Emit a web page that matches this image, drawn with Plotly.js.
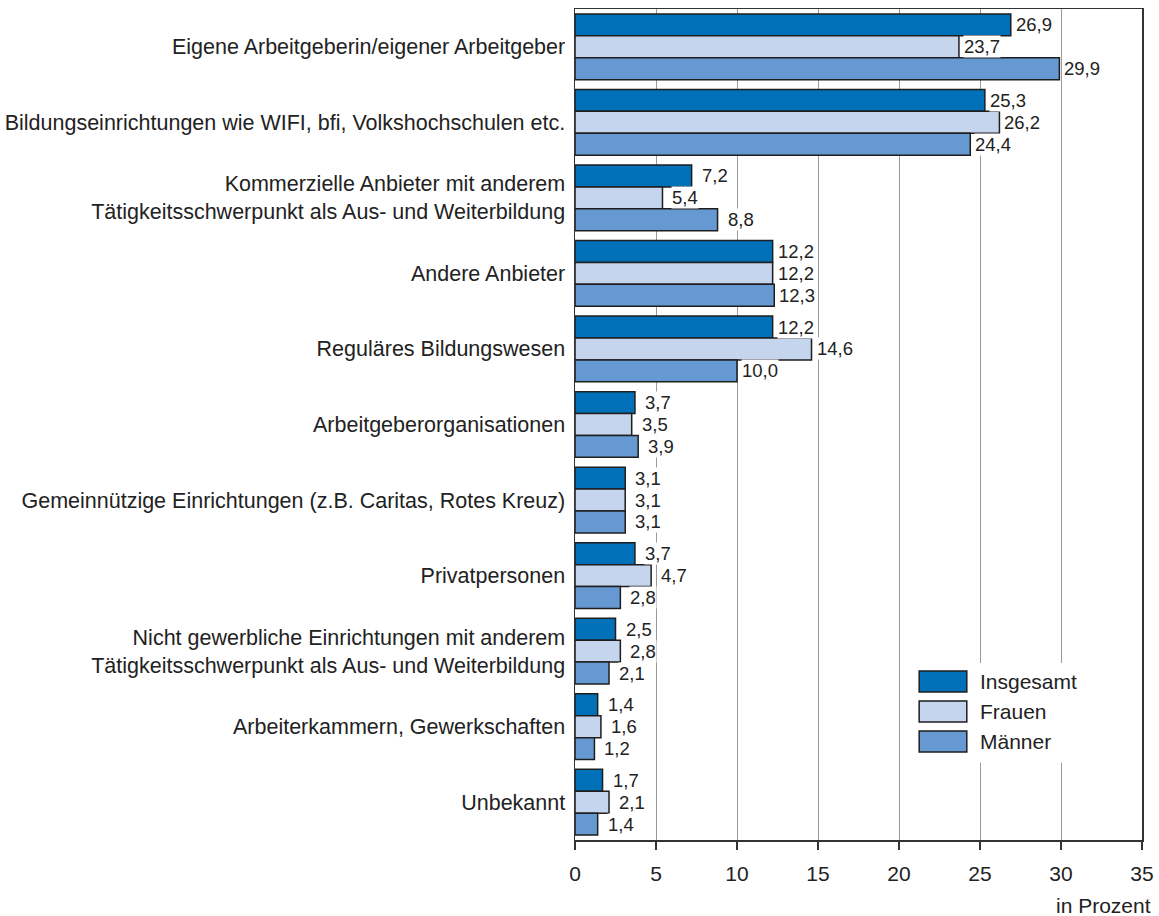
<!DOCTYPE html>
<html>
<head>
<meta charset="utf-8">
<script src="https://cdn.plot.ly/plotly-3.0.1.min.js"></script>
<style>
  html, body { margin: 0; padding: 0; background: #fff; }
  #chart { width: 1159px; height: 916px; }
</style>
</head>
<body>
<div id="chart"></div>
<script>
// Providers of continuing education, share in percent
const categories = [
  "Eigene Arbeitgeberin/eigener Arbeitgeber",
  "Bildungseinrichtungen wie WIFI, bfi, Volkshochschulen etc.",
  "Kommerzielle Anbieter mit anderem<br>Tätigkeitsschwerpunkt als Aus- und Weiterbildung",
  "Andere Anbieter",
  "Reguläres Bildungswesen",
  "Arbeitgeberorganisationen",
  "Gemeinnützige Einrichtungen (z.B. Caritas, Rotes Kreuz)",
  "Privatpersonen",
  "Nicht gewerbliche Einrichtungen mit anderem<br>Tätigkeitsschwerpunkt als Aus- und Weiterbildung",
  "Arbeiterkammern, Gewerkschaften",
  "Unbekannt"
];

const insgesamt = [26.9, 25.3, 7.2, 12.2, 12.2, 3.7, 3.1, 3.7, 2.5, 1.4, 1.7];
const frauen    = [23.7, 26.2, 5.4, 12.2, 14.6, 3.5, 3.1, 4.7, 2.8, 1.6, 2.1];
const maenner   = [29.9, 24.4, 8.8, 12.3, 10.0, 3.9, 3.1, 2.8, 2.1, 1.2, 1.4];

const seriesNames = ["Insgesamt", "Frauen", "Männer"];
const seriesColors = ["#0070b9", "#c6d5ee", "#6699d1"];
const seriesValues = [insgesamt, frauen, maenner];

const xTicks = [0, 5, 10, 15, 20, 25, 30, 35];
const xUnit = "in Prozent";

// layout geometry
const W = 1159, H = 916;
const margin = { l: 575, r: 17, t: 9, b: 76, pad: 0 };
const bargap = 0.13;
const FONT = "Liberation Sans, Arial, Helvetica, sans-serif";
const TXT = "#222222";

const fmt = v => v.toFixed(1).replace(".", ",");

const traces = seriesValues.map((vals, i) => ({
  type: "bar",
  orientation: "h",
  name: seriesNames[i],
  x: vals,
  y: categories,
  marker: { color: seriesColors[i], line: { color: "#1e1e1e", width: 1.5 } },
  hoverinfo: "x+name",
  showlegend: false
}));

// value labels: white-backed text next to each bar end
const plotH = H - margin.t - margin.b;
const band = plotH / categories.length;
const barPx = band * (1 - bargap) / seriesValues.length;
const annotations = [];
seriesValues.forEach((vals, i) => {
  vals.forEach((v, j) => {
    annotations.push({
      x: v, y: categories[j], xref: "x", yref: "y",
      text: fmt(v),
      showarrow: false,
      xanchor: "left", yanchor: "middle",
      xshift: v < 10 ? 9 : 4,
      yshift: (1 - i) * barPx,
      bgcolor: "#ffffff",
      borderpad: 0,
      font: { family: FONT, size: 18.5, color: TXT }
    });
  });
});

// axis unit label
annotations.push({
  xref: "paper", yref: "paper", x: 1, y: -0.0794,
  xanchor: "right", yanchor: "middle", xshift: 11,
  text: xUnit, showarrow: false,
  font: { family: FONT, size: 21, color: TXT }
});

// legend: white panel, swatches and names
const shapes = [{
  type: "rect", xref: "paper", yref: "paper", layer: "above",
  x0: 0.582, x1: 0.926, y0: 0.093, y1: 0.213,
  fillcolor: "#ffffff", line: { width: 0 }
}];
const legTop = 0.2034, legRow = 0.0361, legH = 0.0253;
seriesNames.forEach((name, i) => {
  const y1 = legTop - i * legRow;
  shapes.push({
    type: "rect", xref: "paper", yref: "paper", layer: "above",
    x0: 0.607, x1: 0.691, y0: y1 - legH, y1: y1,
    fillcolor: seriesColors[i], line: { color: "#1e1e1e", width: 1.5 }
  });
  annotations.push({
    xref: "paper", yref: "paper", x: 0.7115, y: y1 - legH / 2,
    xanchor: "left", yanchor: "middle", text: name, showarrow: false,
    font: { family: FONT, size: 21, color: TXT }
  });
});

const layout = {
  width: W, height: H,
  margin: margin,
  paper_bgcolor: "#ffffff",
  plot_bgcolor: "#ffffff",
  barmode: "group",
  bargap: bargap,
  bargroupgap: 0,
  separators: ",.",
  font: { family: FONT, size: 21, color: TXT },
  showlegend: false,
  xaxis: {
    range: [0, 35],
    tickvals: xTicks,
    ticktext: xTicks.map(String),
    ticks: "outside", ticklen: 8, tickwidth: 1.5, tickcolor: "#333333",
    showgrid: true, gridcolor: "#9a9a9a", gridwidth: 1,
    zeroline: false,
    showline: true, linecolor: "#333333", linewidth: 1.5, mirror: true,
    ticklabelstandoff: 6,
    tickfont: { family: FONT, size: 21, color: TXT },
    fixedrange: true
  },
  yaxis: {
    type: "category",
    autorange: "reversed",
    ticks: "",
    showgrid: false,
    zeroline: false,
    showline: true, linecolor: "#333333", linewidth: 1.5, mirror: true,
    ticklabelstandoff: 4,
    tickfont: { family: FONT, size: 21.5, color: TXT },
    fixedrange: true
  },
  annotations: annotations,
  shapes: shapes
};

Plotly.newPlot("chart", traces, layout, { displayModeBar: false, staticPlot: true });
</script>
</body>
</html>
